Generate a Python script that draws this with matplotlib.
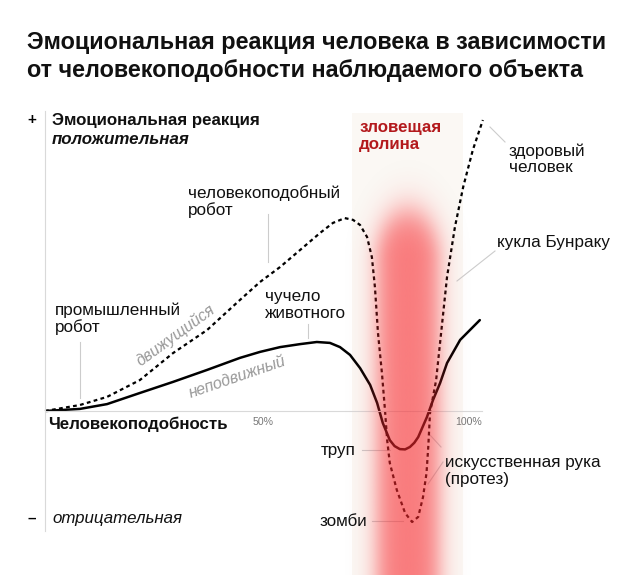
import numpy as np
import matplotlib.pyplot as plt
from matplotlib.patches import Rectangle

plt.rcParams['font.family'] = ['Liberation Sans', 'DejaVu Sans']

# human likeness, % (x) and emotional response (y, arbitrary units)
still_x = [0, 8.0, 14.2, 21.7, 29.3, 37.1, 44.6, 49.2, 53.8, 58.4, 62.2,
           65.2, 67.5, 69.8, 72.1, 74.4, 76.0, 77.3, 78.9, 80.0, 81.2, 82.4,
           83.5, 84.5, 85.4, 87.4, 88.8, 90.4, 92.0, 95.0, 99.5]
still_y = [0, 0.7, 2.3, 6.0, 9.7, 13.7, 17.7, 19.7, 21.3, 22.3, 23.0,
           22.7, 21.3, 18.7, 14.3, 8.7, 2.7, -4.0, -9.7, -11.7, -12.7, -12.8,
           -12.0, -10.6, -8.7, -2.0, 3.7, 9.3, 16.0, 23.7, 30.3]

moving_x = [0, 8.0, 14.2, 21.7, 29.3, 37.1, 44.6, 49.2, 53.8, 58.4, 62.9,
            65.9, 68.6, 70.5, 72.1, 73.7, 74.8, 75.5, 76.2, 77.1, 77.8, 78.3,
            78.9, 80.5, 82.4, 84.0, 85.4, 86.5, 87.3, 87.7, 88.1, 89.5, 90.4,
            92.0, 93.8, 95.7, 97.9, 100.2]
moving_y = [0, 2.0, 4.7, 10.3, 19.3, 27.0, 37.0, 43.0, 48.0, 53.7, 59.3,
            62.7, 64.3, 63.7, 62.0, 58.0, 51.3, 41.3, 26.0, 12.7, 0.3, -9.7,
            -17.3, -26.3, -34.0, -37.0, -35.3, -28.7, -20.7, -12.0, -0.7,
            10.3, 22.7, 44.7, 61.3, 74.7, 87.0, 97.0]

tick_pos = [50, 100]
tick_labels = ['50%', '100%']

W, H = 640, 575
fig = plt.figure(figsize=(W / 100, H / 100), dpi=100)

# plot area: x 0..100 -> px 45..482, y -40..100 -> px 531..111
ax = fig.add_axes([45 / W, (H - 531) / H, 437 / W, 420 / H])


def D(px, py):
    # pixel position -> data coordinates (for layout only)
    return (px - 45) / 437 * 100, (411 - py) / 3


def F(px, py):
    # pixel position -> figure fraction
    return px / W, 1 - py / H


# pale background of the valley
x0, y0 = D(352, 575)
x1, y1 = D(463, 113)
ax.add_patch(Rectangle((x0, y0), x1 - x0, y1 - y0, facecolor='#fbf8f4',
                       edgecolor='none', zorder=0, clip_on=False))

# curves
ax.plot(still_x, still_y, color='black', lw=1.8, zorder=2,
        solid_capstyle='round', solid_joinstyle='round')
ax.plot(moving_x, moving_y, color='black', lw=1.6, zorder=2,
        linestyle=(0, (1.7, 1.5)), clip_on=False)

# red glow of the uncanny valley
gx = np.linspace(330, 490, 161)
gy = np.linspace(140, 575, 436)
GX, GY = np.meshgrid(gx, gy)
dx = GX - 408
dy = np.maximum(0, 262 - GY) * 0.62
dist = np.sqrt(dx ** 2 + dy ** 2)
alpha = 0.6 / (1 + np.exp((dist - 31) / 6.5))
img = np.zeros(GX.shape + (4,))
img[..., 0] = 248 / 255
img[..., 1] = 40 / 255
img[..., 2] = 45 / 255
img[..., 3] = alpha
ex0, ey0 = D(330, 575)
ex1, ey1 = D(490, 140)
ax.imshow(img, extent=[ex0, ex1, ey0, ey1], origin='upper', aspect='auto',
          zorder=3, clip_on=False, interpolation='bilinear')
ax.set_xlim(0, 100)
ax.set_ylim(-40, 100)

# axes
for s in ['top', 'right']:
    ax.spines[s].set_visible(False)
ax.spines['left'].set_color('#d9d9d9')
ax.spines['left'].set_linewidth(0.8)
ax.spines['bottom'].set_position(('data', 0))
ax.spines['bottom'].set_color('#d9d9d9')
ax.spines['bottom'].set_linewidth(0.8)
ax.set_yticks([])
ax.set_xticks(tick_pos)
ax.set_xticklabels(tick_labels, fontsize=7.6, color='#777777')
ax.tick_params(axis='x', length=0, pad=4)
ax.get_xticklabels()[-1].set_horizontalalignment('right')

# leader lines
leaders = [
    ((80, 342), (80, 398)),
    ((268, 214), (268, 262)),
    ((308, 324), (308, 338)),
    ((490, 127), (505, 142)),
    ((495, 251), (457, 281)),
    ((362, 450), (390, 450)),
    ((430, 435), (441, 447)),
    ((428, 484), (443, 462)),
    ((372, 521), (403, 521)),
]
for (ax0, ay0), (ax1, ay1) in leaders:
    p0 = D(ax0, ay0)
    p1 = D(ax1, ay1)
    ax.plot([p0[0], p1[0]], [p0[1], p1[1]], color='#cccccc', lw=0.8,
            zorder=1, clip_on=False)

# title
fig.text(*F(27, 42), 'Эмоциональная реакция человека в зависимости',
         fontsize=16.8, fontweight='bold', va='center', color='#111111')
fig.text(*F(27, 70), 'от человекоподобности наблюдаемого объекта',
         fontsize=16.8, fontweight='bold', va='center', color='#111111')

# axis texts
fig.text(*F(27, 120), '+', fontsize=11, fontweight='bold', va='center')
fig.text(*F(52, 120), 'Эмоциональная реакция', fontsize=12.2,
         fontweight='bold', va='center', color='#111111')
fig.text(*F(52, 139), 'положительная', fontsize=12.2, fontweight='bold',
         style='italic', va='center', color='#111111')
fig.text(*F(27, 519), '–', fontsize=11, fontweight='bold', va='center')
fig.text(*F(52, 519), 'отрицательная', fontsize=12.2, style='italic',
         va='center', color='#111111')
fig.text(*F(48, 424), 'Человекоподобность', fontsize=12.2,
         fontweight='bold', va='center', color='#111111')

# labels
lab = dict(fontsize=12.3, va='center', color='#111111', linespacing=1.1)
fig.text(*F(55, 319), 'промышленный\nробот', **lab)
fig.text(*F(188, 202), 'человекоподобный\nробот', **lab)
fig.text(*F(265, 305), 'чучело\nживотного', **lab)
fig.text(*F(509, 159), 'здоровый\nчеловек', **lab)
fig.text(*F(497, 243), 'кукла Бунраку', **lab)
fig.text(*F(356, 450), 'труп', ha='right', **lab)
fig.text(*F(445, 471), 'искусственная рука\n(протез)', **lab)
fig.text(*F(367, 521), 'зомби', ha='right', **lab)
fig.text(*F(359, 136), 'зловещая\nдолина', fontsize=12.2, fontweight='bold',
         va='center', color='#b3191c', linespacing=1.1)

# curve names
fig.text(*F(176, 335), 'движущийся', fontsize=11.5, style='italic',
         color='#999999', rotation=36, ha='center', va='center')
fig.text(*F(237, 377), 'неподвижный', fontsize=11.5, style='italic',
         color='#999999', rotation=19, ha='center', va='center')

fig.savefig('out.png', dpi=100)
